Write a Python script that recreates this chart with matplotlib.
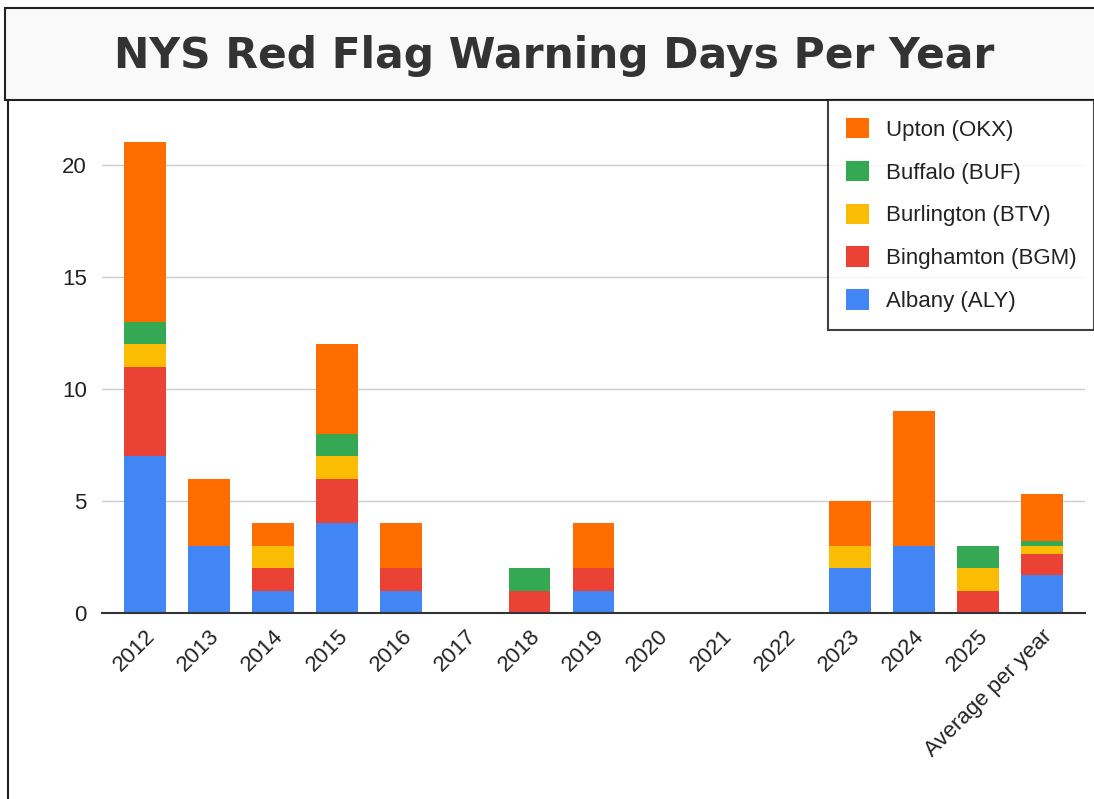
import matplotlib.pyplot as plt
import numpy as np
from matplotlib.patches import Rectangle
from matplotlib.lines import Line2D

# red flag warning days by office, per year
years = ['2012', '2013', '2014', '2015', '2016', '2017', '2018', '2019',
         '2020', '2021', '2022', '2023', '2024', '2025', 'Average per year']
albany = [7, 3, 1, 4, 1, 0, 0, 1, 0, 0, 0, 2, 3, 0, 1.70]
binghamton = [4, 0, 1, 2, 1, 0, 1, 1, 0, 0, 0, 0, 0, 1, 0.93]
burlington = [1, 0, 1, 1, 0, 0, 0, 0, 0, 0, 0, 1, 0, 1, 0.36]
buffalo = [1, 0, 0, 1, 0, 0, 1, 0, 0, 0, 0, 0, 0, 1, 0.24]
upton = [8, 3, 1, 4, 2, 0, 0, 2, 0, 0, 0, 2, 6, 0, 2.08]

series = [('Albany (ALY)', albany, '#4285F4'),
          ('Binghamton (BGM)', binghamton, '#EA4335'),
          ('Burlington (BTV)', burlington, '#FBBC04'),
          ('Buffalo (BUF)', buffalo, '#34A853'),
          ('Upton (OKX)', upton, '#FF6D01')]

W, H = 1094, 799
fig = plt.figure(figsize=(W / 100, H / 100), dpi=100)
fig.patch.set_facecolor('white')

# title box
fig.patches.append(Rectangle((5 / W, 1 - 100 / H), 1.0, 92 / H, transform=fig.transFigure,
                             facecolor='#f9f9f9', edgecolor='#222222', linewidth=1.5))
fig.text(554 / W, 1 - 56 / H, 'NYS Red Flag Warning Days Per Year', ha='center', va='center',
         fontsize=30.5, fontweight='bold', color='#333333', family='DejaVu Sans')
# chart box edges
fig.lines.append(Line2D([8 / W, 8 / W], [0, 1 - 100 / H], transform=fig.transFigure,
                        color='#222222', linewidth=1.5))

ax = fig.add_axes([102 / W, 1 - 613 / H, (1085 - 102) / W, (613 - 120) / H])
x = np.arange(len(years))
bottom = np.zeros(len(years))
for name, vals, col in series:
    v = np.array(vals, dtype=float)
    ax.bar(x, v, 0.65, bottom=bottom, color=col, label=name, zorder=2)
    bottom += v

ax.set_xlim(-0.67, 14.67)
ax.set_ylim(0, 22)
ax.set_yticks([0, 5, 10, 15, 20])
ax.yaxis.grid(True, color='#cccccc', linewidth=1, zorder=0)
ax.set_axisbelow(True)
for s in ['top', 'right', 'left']:
    ax.spines[s].set_visible(False)
ax.spines['bottom'].set_color('#333333')
ax.spines['bottom'].set_linewidth(1.5)
ax.spines['bottom'].set_zorder(3)
ax.tick_params(axis='both', length=0, labelsize=16, colors='#222222',
               labelfontfamily='Liberation Sans')
ax.tick_params(axis='y', pad=11)
ax.set_xticks(x)
ax.set_xticklabels(years, rotation=45, ha='right', rotation_mode='anchor')
ax.tick_params(axis='x', pad=9)

handles, labels = ax.get_legend_handles_labels()
leg = fig.legend(handles[::-1], labels[::-1], loc='upper left',
                 bbox_to_anchor=(828 / W, 1 - 100 / H), frameon=True, fancybox=False,
                 prop={'family': 'Liberation Sans', 'size': 16}, handlelength=1.05,
                 handleheight=1.05, handletextpad=0.75, labelspacing=0.9, borderpad=0.8,
                 borderaxespad=0)
leg.get_frame().set_edgecolor('#111111')
leg.get_frame().set_linewidth(1.5)
for t in leg.get_texts():
    t.set_color('#222222')

fig.savefig('out.png', dpi=100)
